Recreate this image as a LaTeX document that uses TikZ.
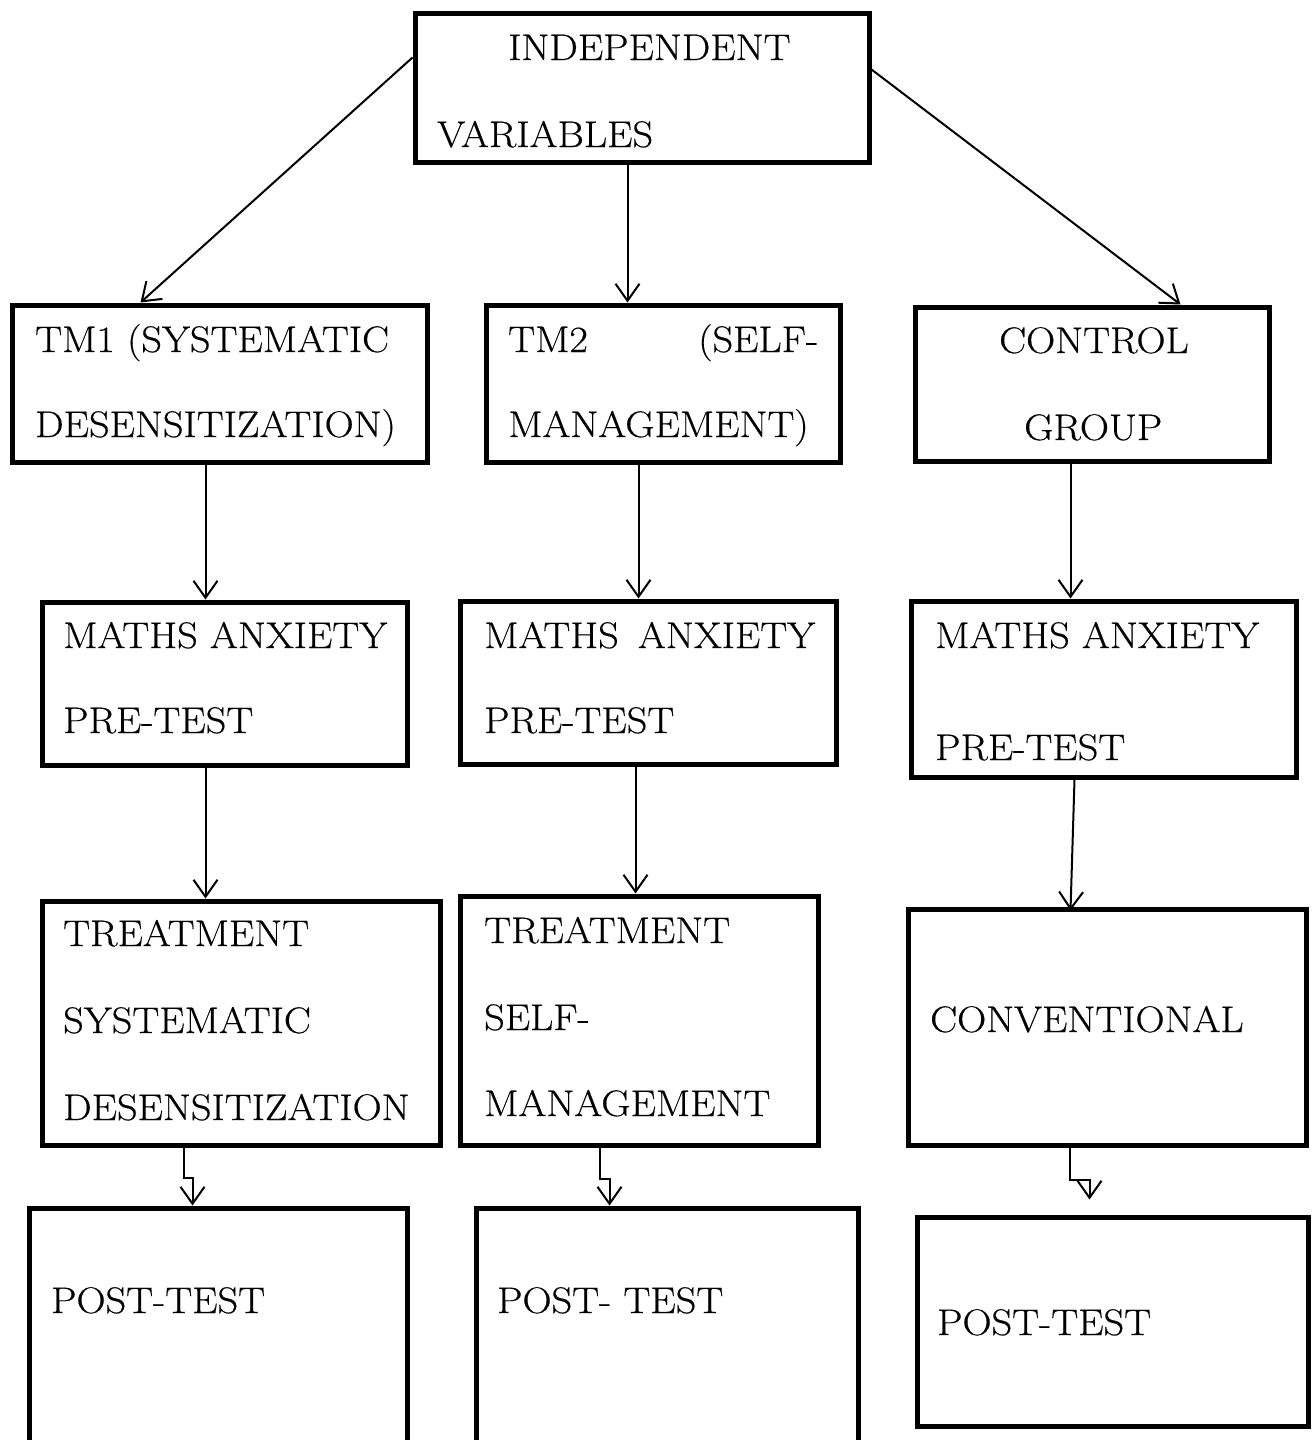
\documentclass[tikz,border=0pt]{standalone}
\usepackage{fontspec}
\setmainfont{Latin Modern Roman}[FakeStretch=1.09,FakeBold=0.4]
\usetikzlibrary{arrows.meta,fit}

% a line spread to a given width, keeping at least a word space in the gap
\newcommand{\spreadline}[3]{\hbox to #1pt{#2\hskip 0.33em plus 1fill #3}}

\tikzset{
  box/.style={draw, line width=5pt, inner sep=0pt, rectangle},
  lbl/.style={anchor=base west, inner sep=0pt, font=\fontsize{37}{44}\selectfont},
  conn/.style={line width=2pt, -{Straight Barb[length=17pt,width=24pt,line width=2pt]}},
}

\begin{document}
\begin{tikzpicture}[x=1pt,y=-1pt]
  \useasboundingbox (0,0) rectangle (1316,1440);

  % ---- boxes ----
  \node[box, fit={(415,13) (869,162)}]    (iv)    {};
  \node[box, fit={(12,305) (427,462)}]    (tm1)   {};
  \node[box, fit={(486,305) (840,462)}]   (tm2)   {};
  \node[box, fit={(915,307) (1269,461)}]  (ctl)   {};
  \node[box, fit={(42,602) (407,765)}]    (pre1)  {};
  \node[box, fit={(460,601) (836,764)}]   (pre2)  {};
  \node[box, fit={(911,601) (1296,777)}]  (pre3)  {};
  \node[box, fit={(42,901) (440,1145)}]   (tr1)   {};
  \node[box, fit={(460,896) (818,1145)}]  (tr2)   {};
  \node[box, fit={(908,909) (1306,1145)}] (conv)  {};
  \node[box, fit={(29,1208) (407,1442)}]  (post1) {};
  \node[box, fit={(476,1208) (858,1442)}] (post2) {};
  \node[box, fit={(917,1217) (1308,1426)}](post3) {};

  % ---- texts ----
  \node[lbl] (ivA) at (508,60)  {INDEPENDENT};
  \node[lbl] (ivB) at (437,147) {VARIABLES};

  \node[lbl] (tm1A) at (35,352) {\spreadline{351}{TM1}{(SYSTEMATIC}};
  \node[lbl] (tm1B) at (35,437) {DESENSITIZATION)};
  \node[lbl] (tm2A) at (508,352) {\spreadline{310}{TM2}{(SELF-}};
  \node[lbl] (tm2B) at (508,437) {MANAGEMENT)};
  \node[lbl] (ctlA) at (999,353) {CONTROL};
  \node[lbl] (ctlB) at (1024,440) {GROUP};

  \node[lbl] (pre1A) at (63,648) {\spreadline{322}{MATHS}{ANXIETY}};
  \node[lbl] (pre1B) at (63,733) {PRE-TEST};
  \node[lbl] (pre2A) at (484,648) {\spreadline{331}{MATHS}{ANXIETY}};
  \node[lbl] (pre2B) at (484,733) {PRE-TEST};
  \node[lbl] (pre3A) at (935,648) {MATHS ANXIETY};
  \node[lbl] (pre3B) at (935,760) {PRE-TEST};

  \node[lbl] (tr1A) at (63,946)  {TREATMENT};
  \node[lbl] (tr1B) at (63,1033) {SYSTEMATIC};
  \node[lbl] (tr1C) at (63,1120) {DESENSITIZATION};
  \node[lbl] (tr2A) at (484,943)  {TREATMENT};
  \node[lbl] (tr2B) at (484,1030) {SELF-};
  \node[lbl] (tr2C) at (484,1116) {MANAGEMENT};
  \node[lbl] (convA) at (930,1032) {CONVENTIONAL};

  \node[lbl] (post1A) at (51,1313)  {POST-TEST};
  \node[lbl] (post2A) at (497,1313) {POST- TEST};
  \node[lbl] (post3A) at (937,1335) {POST-TEST};

  % ---- connectors ----
  \draw[conn] ([yshift=-47]iv.north west) -- ([xshift=131]tm1.north west);
  \draw[conn] ([xshift=215]iv.south west) -- ([xshift=144]tm2.north west);
  \draw[conn] ([yshift=-59]iv.north east) -- ([xshift=268]ctl.north west);

  \draw[conn] ([xshift=196]tm1.south west) -- ([xshift=166]pre1.north west);
  \draw[conn] ([xshift=155]tm2.south west) -- ([xshift=181]pre2.north west);
  \draw[conn] ([xshift=158]ctl.south west) -- ([xshift=162]pre3.north west);

  \draw[conn] ([xshift=166]pre1.south west) -- ([xshift=166]tr1.north west);
  \draw[conn] ([xshift=178]pre2.south west) -- ([xshift=178]tr2.north west);
  \draw[conn] ([xshift=166]pre3.south west) -- ([xshift=165,yshift=-4]conv.north west);

  \draw[conn] ([xshift=144]tr1.south west) -- ++(0,30) -| ([xshift=166]post1.north west);
  \draw[conn] ([xshift=142]tr2.south west) -- ++(0,31) -| ([xshift=136]post2.north west);
  \draw[conn] ([xshift=164]conv.south west) -- ++(0,32) -| ([xshift=175,yshift=15]post3.north west);
\end{tikzpicture}
\end{document}
